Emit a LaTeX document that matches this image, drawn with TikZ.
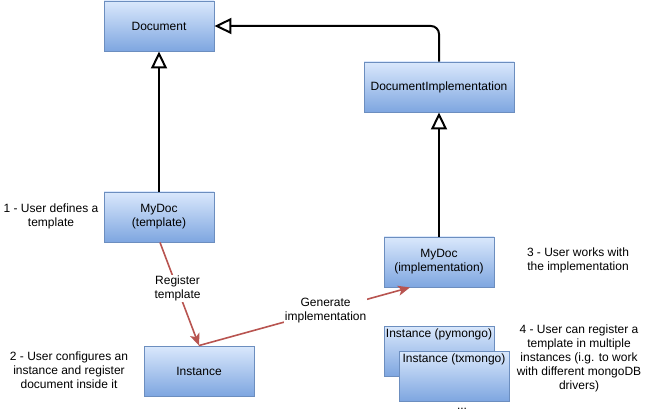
\documentclass[tikz,border=0pt]{standalone}
\usepackage{fontspec}
\setmainfont{Liberation Sans}
\usetikzlibrary{arrows.meta, positioning, calc}
\definecolor{boxtop}{HTML}{dae8fc}
\definecolor{boxbot}{HTML}{7ea6e0}
\definecolor{boxline}{HTML}{6c8ebf}
\definecolor{reglink}{HTML}{b85450}
\tikzset{
  classbox/.style={rectangle, draw=boxline, top color=boxtop, bottom color=boxbot,
                   line width=0.9pt, minimum width=110pt, minimum height=50pt,
                   align=center, font=\fontsize{12}{14}\selectfont},
  instbox/.style={classbox, label={[anchor=north, inner sep=3pt,
                   font=\fontsize{12}{14}\selectfont]north:#1}},
  genlink/.style={-{Triangle[open, length=17pt 0 0, width=16pt 0 0, line width=2pt]},
                  line width=2pt, draw=black},
  reglinkarrow/.style={-{Stealth[length=12pt, width=10pt, inset=3pt]},
                       line width=1.6pt, draw=reglink},
  linklabel/.style={font=\fontsize{12}{14}\selectfont, fill=white, inner sep=1pt, align=center},
  note/.style={font=\fontsize{12}{14}\selectfont, align=center, inner sep=0pt},
}
\begin{document}
\begin{tikzpicture}[x=1pt, y=-1pt]
  \useasboundingbox (0,0) rectangle (652,419);

  % --- Classes ---
  \node[classbox] (doc)     at (159, 26)  {Document};
  \node[classbox, minimum width=150pt] (docimpl) at (439, 87) {DocumentImplementation};
  \node[classbox] (tmpl)    at (159, 217) {MyDoc\\(template)};
  \node[classbox] (impl)    at (439, 262) {MyDoc\\(implementation)};
  \node[classbox] (inst)    at (199, 371) {Instance};

  % --- Instance stack ---
  \node[instbox={Instance (pymongo)}] (pymongo) at (439, 351) {};
  \node[instbox={Instance (txmongo)}] (txmongo) at (454, 376) {};
  \node[note] (dots) at (462, 409) {...};

  % --- Inheritance ---
  \draw[genlink] (tmpl) -- (doc);
  \draw[genlink] (impl) -- (docimpl);
  \draw[genlink, rounded corners=8pt] (docimpl.north) |- (doc.east);

  % --- Registration flow ---
  \draw[reglinkarrow] ([xshift=1pt]tmpl.south) -- (inst.north)
    node[linklabel, pos=0.45] (reglab) {Register\\template};
  \draw[reglinkarrow] (inst.north) -- ([xshift=-29pt]impl.south)
    node[linklabel, pos=0.6] (genlab) {Generate\\implementation};

  % --- Notes ---
  \node[note] (step1) at (51, 216)  {1 - User defines a\\template};
  \node[note] (step2) at (69, 370)  {2 - User configures an\\instance and register\\document inside it};
  \node[note] (step3) at (578, 260) {3 - User works with\\the implementation};
  \node[note] (step4) at (579, 358) {4 - User can register a\\template in multiple\\instances (i.g. to work\\with different mongoDB\\drivers)};

\end{tikzpicture}
\end{document}
